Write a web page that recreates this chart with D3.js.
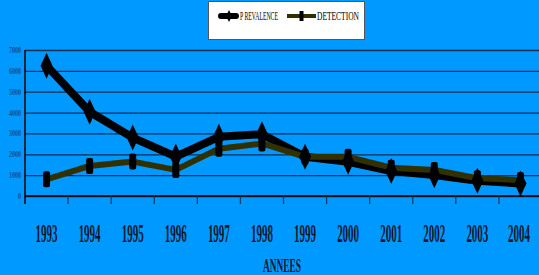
<!DOCTYPE html>
<html>
<head>
<meta charset="utf-8">
<script src="https://cdn.jsdelivr.net/npm/d3@7"></script>
<style>
  html, body { margin: 0; padding: 0; background: #0099ff; }
  svg { display: block; }
  text { font-family: "Liberation Serif", "DejaVu Serif", serif; font-weight: bold; }
</style>
</head>
<body>
<div id="chart"></div>
<script>
// data
const years = ["1993", "1994", "1995", "1996", "1997", "1998", "1999", "2000", "2001", "2002", "2003", "2004"];
const prevalence = [6250, 4040, 2800, 1890, 2840, 2960, 1880, 1640, 1200, 1000, 730, 600];
const detection = [800, 1440, 1650, 1250, 2270, 2520, 1880, 1880, 1360, 1250, 850, 770];
const yTicks = [0, 1000, 2000, 3000, 4000, 5000, 6000, 7000];

const width = 539, height = 275;
const margin = {top: 50, left: 25, right: -3, bottom: 79};

const svg = d3.select("#chart").append("svg")
    .attr("width", width)
    .attr("height", height);

svg.append("rect").attr("width", width).attr("height", height).attr("fill", "#0099ff");

// squeeze a text horizontally so it is `w` pixels wide (the reference uses a condensed face)
function condense(sel, px, py, w, anchor) {
    sel.each(function() {
        const len = this.getComputedTextLength();
        const k = w / len;
        let dx = 0;
        if (anchor === "middle") dx = -w / 2;
        if (anchor === "end") dx = -w;
        d3.select(this)
            .attr("x", 0).attr("y", 0)
            .attr("text-anchor", "start")
            .attr("transform", "translate(" + (px + dx) + "," + py + ") scale(" + k + ",1)");
    });
}

const x = d3.scaleBand()
    .domain(years)
    .range([margin.left, width - margin.right]);

const y = d3.scaleLinear()
    .domain([0, 7000])
    .range([height - margin.bottom, margin.top]);

// horizontal gridlines
const grid = svg.append("g")
    .attr("transform", "translate(" + margin.left + ",0)")
    .call(d3.axisLeft(y).tickValues(yTicks).tickSize(-(width - margin.left)).tickFormat(""));
grid.select("path").remove();
grid.selectAll("line").style("stroke", "#0b2c55").style("stroke-width", 1.3);

// y axis labels
const yLabels = svg.append("g");
yTicks.forEach(function(t) {
    const txt = yLabels.append("text")
        .style("font-size", "8px")
        .style("fill", "#15508f")
        .text(d3.format("d")(t));
    condense(txt, margin.left - 4, y(t) + 3, t === 0 ? 3 : 12, "end");
});

// y axis line
svg.append("line")
    .attr("x1", margin.left).attr("x2", margin.left)
    .attr("y1", margin.top).attr("y2", y(0) + 8)
    .style("stroke", "#000").style("stroke-width", 1.5);

// x axis
svg.append("line")
    .attr("x1", margin.left).attr("x2", width)
    .attr("y1", y(0)).attr("y2", y(0))
    .style("stroke", "#000").style("stroke-width", 1.5);

svg.append("g").selectAll("line")
    .data(years.slice(1))
    .enter().append("line")
    .attr("x1", d => x(d)).attr("x2", d => x(d))
    .attr("y1", y(0)).attr("y2", y(0) + 8)
    .style("stroke", "#0b3c6a").style("stroke-width", 1.3);

const xLabels = svg.append("g");
years.forEach(function(yr) {
    const txt = xLabels.append("text")
        .style("font-size", "25px")
        .style("fill", "#0a1630")
        .text(yr);
    condense(txt, Math.min(x(yr) + x.bandwidth() / 2, 519), 242, 22, "middle");
});

condense(svg.append("text")
    .style("font-size", "18px")
    .style("fill", "#0a1630")
    .text("ANNEES"), 282, 272, 38, "middle");

// lines
const line = d3.line()
    .x((d, i) => x(years[i]) + x.bandwidth() / 2)
    .y(d => y(d));

svg.append("path")
    .datum(prevalence)
    .attr("d", line)
    .style("fill", "none")
    .style("stroke", "#000")
    .style("stroke-width", 8)
    .style("stroke-linejoin", "round");

svg.append("path")
    .datum(detection)
    .attr("d", line)
    .style("fill", "none")
    .style("stroke", "#333000")
    .style("stroke-width", 6)
    .style("stroke-linejoin", "round");

// markers
svg.append("g").selectAll("rect")
    .data(detection)
    .enter().append("rect")
    .attr("x", (d, i) => x(years[i]) + x.bandwidth() / 2 - 3.5)
    .attr("y", d => y(d) - 8)
    .attr("width", 7)
    .attr("height", 16)
    .attr("rx", 2)
    .style("fill", "#000");

const diamond = "M0,-13L6,0L0,13L-6,0Z";
svg.append("g").selectAll("path")
    .data(prevalence)
    .enter().append("path")
    .attr("d", diamond)
    .attr("transform", (d, i) => "translate(" + (x(years[i]) + x.bandwidth() / 2) + "," + y(d) + ")")
    .style("fill", "#000");

// legend
const legend = svg.append("g");
legend.append("rect")
    .attr("x", 208.5).attr("y", 1.5)
    .attr("width", 156).attr("height", 38)
    .style("fill", "#fff")
    .style("stroke", "#555")
    .style("stroke-width", 1);

legend.append("line")
    .attr("x1", 221).attr("x2", 236).attr("y1", 16).attr("y2", 16)
    .style("stroke", "#000").style("stroke-width", 6).style("stroke-linecap", "round");
legend.append("path")
    .attr("d", "M0,-6L3,0L0,6L-3,0Z")
    .attr("transform", "translate(229,16)")
    .style("fill", "#000");
condense(legend.append("text")
    .style("font-size", "12px")
    .style("font-weight", "normal")
    .style("fill", "#000")
    .text("P REVALENCE"), 240, 20, 38, "start");

legend.append("line")
    .attr("x1", 287).attr("x2", 316).attr("y1", 16).attr("y2", 16)
    .style("stroke", "#333000").style("stroke-width", 4);
legend.append("rect")
    .attr("x", 299.5).attr("y", 11).attr("width", 4).attr("height", 10)
    .style("fill", "#000");
condense(legend.append("text")
    .style("font-size", "12px")
    .style("font-weight", "normal")
    .style("fill", "#000")
    .text("DETECTION"), 317, 20, 42, "start");
</script>
</body>
</html>
